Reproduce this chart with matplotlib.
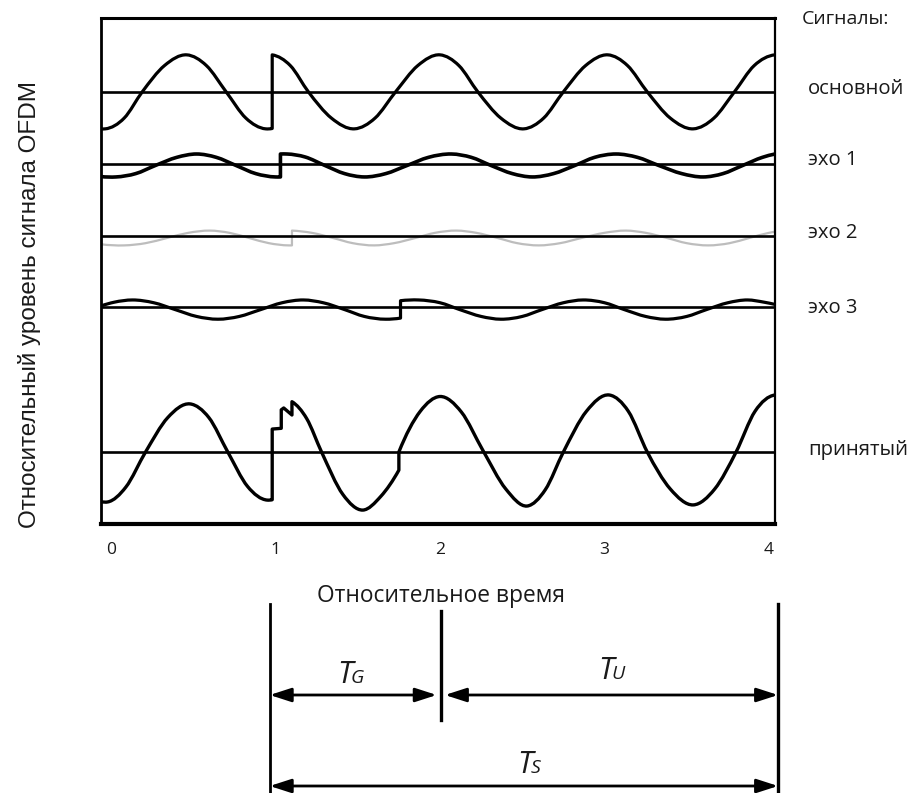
import matplotlib
matplotlib.use("Agg")
import matplotlib.pyplot as plt
from matplotlib.path import Path
from matplotlib.patches import PathPatch
import numpy as np

# ---------------- data ----------------
time_ticks = [0, 1, 2, 3, 4]
tick_labels = ["0", "1", "2", "3", "4"]
legend_title = "Сигналы:"
signal_names = ["основной", "эхо 1", "эхо 2", "эхо 3", "принятый"]

# main signal (relative level)
main_t = [-0.06, -0.035, 0.08, 0.19, 0.325, 0.46, 0.58, 0.70, 0.82, 0.94, 0.98,
          0.98, 1.09, 1.20, 1.34, 1.48, 1.605, 1.73, 1.865, 2.0, 2.115, 2.23, 2.37,
          2.51, 2.63, 2.75, 2.885, 3.02, 3.14, 3.26, 3.40, 3.54, 3.665, 3.79, 3.91, 4.036]
main_v = [-1.0, -1.0, -0.71, 0.0, 0.71, 1.0, 0.71, 0.0, -0.71, -1.0, -0.99,
          1.0, 0.71, 0.0, -0.71, -1.0, -0.71, 0.0, 0.71, 1.0, 0.71, 0.0, -0.71,
          -1.0, -0.71, 0.0, 0.71, 1.0, 0.71, 0.0, -0.71, -1.0, -0.71, 0.0, 0.71, 1.0]

echo1_t = [-0.06, 0.03, 0.15, 0.27, 0.40, 0.52, 0.64, 0.76, 0.88, 1.0, 1.03,
           1.03, 1.07, 1.18, 1.30, 1.42, 1.54, 1.67, 1.80, 1.93, 2.07, 2.19, 2.31, 2.44,
           2.56, 2.69, 2.82, 2.94, 3.07, 3.20, 3.33, 3.47, 3.60, 3.72, 3.84, 3.96, 4.036]
echo1_v = [-0.34, -0.35, -0.26, -0.04, 0.18, 0.27, 0.18, -0.04, -0.26, -0.35, -0.35,
           0.27, 0.27, 0.19, -0.04, -0.26, -0.35, -0.26, -0.04, 0.18, 0.27, 0.18, -0.04, -0.26,
           -0.35, -0.26, -0.04, 0.18, 0.27, 0.18, -0.04, -0.26, -0.35, -0.26, -0.04, 0.18, 0.27]

echo2_t = [-0.06, 0.08, 0.21, 0.34, 0.47, 0.60, 0.72, 0.84, 0.96, 1.08, 1.10,
           1.10, 1.22, 1.35, 1.47, 1.60, 1.72, 1.85, 1.97, 2.10, 2.22, 2.35, 2.47, 2.60,
           2.73, 2.86, 3.00, 3.13, 3.25, 3.38, 3.50, 3.63, 3.76, 3.88, 4.00, 4.036]
echo2_v = [-0.22, -0.25, -0.19, -0.05, 0.09, 0.15, 0.09, -0.05, -0.19, -0.25, -0.25,
           0.15, 0.09, -0.05, -0.19, -0.25, -0.19, -0.05, 0.09, 0.15, 0.09, -0.05, -0.19, -0.25,
           -0.19, -0.05, 0.09, 0.15, 0.09, -0.05, -0.19, -0.25, -0.19, -0.05, 0.09, 0.12]

echo3_t = [-0.06, 0.02, 0.13, 0.26, 0.39, 0.52, 0.65, 0.78, 0.91, 1.04, 1.17, 1.29, 1.42, 1.54, 1.67, 1.76,
           1.76, 1.87, 2.0, 2.12, 2.25, 2.37, 2.5, 2.62, 2.75, 2.87, 3.0, 3.12, 3.25, 3.37, 3.5,
           3.62, 3.75, 3.87, 3.97, 4.036]
echo3_v = [0.03, 0.13, 0.19, 0.115, -0.07, -0.255, -0.33, -0.255, -0.07, 0.115, 0.19, 0.115, -0.07, -0.255, -0.33, -0.30,
           0.17, 0.19, 0.115, -0.07, -0.255, -0.33, -0.255, -0.07, 0.115, 0.19, 0.115, -0.07, -0.255, -0.33, -0.255,
           -0.07, 0.115, 0.19, 0.13, 0.07]

recv_t = [-0.06, -0.02, 0.09, 0.21, 0.345, 0.48, 0.595, 0.71, 0.83, 0.95, 0.98,
          0.98, 1.035,
          1.035, 1.05, 1.10,
          1.10, 1.19, 1.28, 1.41, 1.53, 1.64, 1.75,
          1.75, 1.88, 2.0, 2.13, 2.26, 2.40, 2.53, 2.64, 2.75, 2.89, 3.03, 3.145, 3.26,
          3.40, 3.54, 3.67, 3.80, 3.915, 4.036]
recv_v = [-1.34, -1.35, -0.95, 0.0, 0.93, 1.30, 0.93, 0.0, -0.93, -1.30, -1.29,
          0.62, 0.64,
          1.14, 1.19, 1.0,
          1.36, 0.9, 0.0, -1.15, -1.57, -1.2, -0.49,
          0.0, 1.1, 1.50, 1.08, 0.05, -1.0, -1.46, -1.02, 0.0, 1.1, 1.54, 1.1, 0.0,
          -1.0, -1.43, -1.0, 0.0, 1.1, 1.54]

# timing of guard interval / useful part / symbol
guard_start, guard_end, symbol_end = 0.965, 2.005, 4.055

# ---------------- layout ----------------
W, H = 907, 793
lane_base = [11.68, 9.73, 7.78, 5.865, 1.946]      # baseline level of each lane
label_y_px = [88.5, 160, 233, 308, 450]
XLIM = (-0.0608, 4.0365)
YLIM = (0, 13.676)

plt.rcParams['font.family'] = ['Open Sans', 'DejaVu Sans']
TXT = '#1a1a1a'

fig = plt.figure(figsize=(W / 100, H / 100), dpi=100)
ax = fig.add_axes([101 / W, 1 - 524 / H, 674 / W, 506 / H])
ax.set_xlim(*XLIM)
ax.set_ylim(*YLIM)


def smooth_path(ts, vs, base):
    """Smooth cubic (Hermite) curve through the points; vertical jump where t repeats."""
    pts = np.column_stack([ts, np.asarray(vs, float) + base])
    segs, start = [], 0
    for i in range(1, len(ts)):
        if ts[i] == ts[i - 1]:
            segs.append(pts[start:i])
            start = i
    segs.append(pts[start:])
    verts, codes = [], []
    for k, s in enumerate(segs):
        verts.append(s[0])
        codes.append(Path.MOVETO if k == 0 else Path.LINETO)
        n = len(s)
        if n < 4:
            for p in s[1:]:
                verts.append(p)
                codes.append(Path.LINETO)
            continue
        x, y = s[:, 0], s[:, 1]
        h = np.diff(x)
        d = np.diff(y) / h
        m = np.empty(n)
        m[0] = ((2 * h[0] + h[1]) * d[0] - h[0] * d[1]) / (h[0] + h[1])
        m[-1] = ((2 * h[-1] + h[-2]) * d[-1] - h[-1] * d[-2]) / (h[-1] + h[-2])
        m[1:-1] = (d[:-1] * h[1:] + d[1:] * h[:-1]) / (h[:-1] + h[1:])
        for i in range(n - 1):
            c1 = (x[i] + h[i] / 3, y[i] + m[i] * h[i] / 3)
            c2 = (x[i + 1] - h[i] / 3, y[i + 1] - m[i + 1] * h[i] / 3)
            verts += [c1, c2, (x[i + 1], y[i + 1])]
            codes += [Path.CURVE4] * 3
    return Path(verts, codes)


series = [(main_t, main_v), (echo1_t, echo1_v), (echo2_t, echo2_v),
          (echo3_t, echo3_v), (recv_t, recv_v)]
styles = [dict(color='black', lw=2.3, zorder=3),
          dict(color='black', lw=2.6, zorder=3),
          dict(color='#bdbdbd', lw=1.6, zorder=1),
          dict(color='black', lw=2.3, zorder=3),
          dict(color='black', lw=2.4, zorder=3)]

for (ts, vs), base, st in zip(series, lane_base, styles):
    ax.axhline(base, color='black', lw=1.9, zorder=2)
    ax.add_patch(PathPatch(smooth_path(ts, vs, base), fill=False,
                           capstyle='round', joinstyle='round', **st))

for sp, lw in zip(['top', 'bottom', 'left', 'right'], [2.2, 3.0, 2.0, 1.6]):
    ax.spines[sp].set_linewidth(lw)
    ax.spines[sp].set_color('black')

ax.set_xticks(time_ticks)
ax.set_xticklabels(tick_labels, fontsize=12.5, color=TXT)
ax.tick_params(axis='x', length=0, pad=13)
ax.set_yticks([])

fig.text(30 / W, 1 - 304 / H, "Относительный уровень сигнала OFDM", rotation=90,
         ha='center', va='center', fontsize=17.5, color=TXT,
         family=['Liberation Sans', 'DejaVu Sans'])

fig.text(802 / W, 1 - 19 / H, legend_title, ha='left', va='center', fontsize=14, color=TXT)
for name, yp in zip(signal_names, label_y_px):
    fig.text(808 / W, 1 - yp / H, name, ha='left', va='center', fontsize=14.6, color=TXT)

# ---------------- timing annotation ----------------
ax2 = fig.add_axes([101 / W, 0, 674 / W, 233 / H])
ax2.set_xlim(*XLIM)
ax2.set_ylim(0, 233)
ax2.axis('off')

fig.text(441 / W, 1 - 596 / H, "Относительное время", ha='center', va='center',
         fontsize=16.4, color=TXT)

ax2.plot([guard_start, guard_start], [-5, 189], color='black', lw=2.0, clip_on=False)
ax2.plot([guard_end, guard_end], [73, 182], color='black', lw=2.4, clip_on=False)
ax2.plot([symbol_end, symbol_end], [-5, 189], color='black', lw=2.4, clip_on=False)

aprops = dict(arrowstyle='<|-|>,head_length=1.3,head_width=0.42', lw=2.0, color='black',
              shrinkA=0, shrinkB=0, mutation_scale=10)
gap = 0.025
ax2.annotate('', xy=(guard_end - gap, 98), xytext=(guard_start, 98), arrowprops=aprops,
             annotation_clip=False)
ax2.annotate('', xy=(symbol_end, 98), xytext=(guard_end + gap, 98), arrowprops=aprops,
             annotation_clip=False)
ax2.annotate('', xy=(symbol_end, 7), xytext=(guard_start, 7), arrowprops=aprops,
             annotation_clip=False)


def t_label(x, y, sub):
    t = ax2.annotate('T', xy=(x, y), xytext=(-10, 0), textcoords='offset points',
                     ha='center', va='baseline', fontsize=22, style='italic', color=TXT,
                     annotation_clip=False)
    ax2.annotate(sub, xy=(1, 0), xycoords=t, xytext=(-1, 5), textcoords='offset points',
                 ha='left', va='baseline', fontsize=14, style='italic', color=TXT,
                 annotation_clip=False)


t_label((guard_start + guard_end) / 2 + 0.02, 110, 'G')
t_label(3.09, 114, 'U')
t_label(2.6, 20, 'S')

fig.savefig('out.png', dpi=100, facecolor='white')
